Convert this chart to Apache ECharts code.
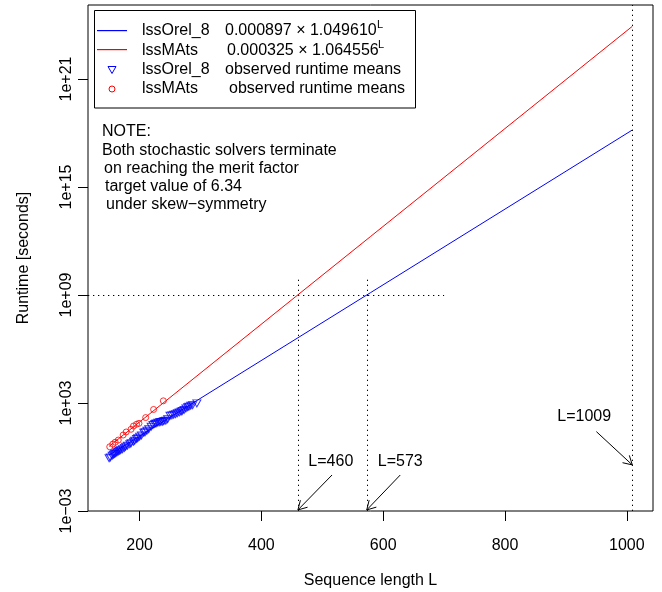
<!DOCTYPE html>
<html><head><meta charset="utf-8">
<script src="https://cdn.jsdelivr.net/npm/echarts@6/dist/echarts.min.js"></script>
<style>html,body{margin:0;padding:0;background:#fff}#c{width:662px;height:592px}</style>
</head><body><div id="c"></div>
<script>
// ---- data (runtime in seconds) ----
const blueL = [150, 152, 155, 157, 159, 161, 163, 165, 167, 169, 172, 175, 177, 180, 184, 186, 190, 192, 195, 197, 200, 203, 207, 209, 212, 215, 219, 222, 225, 227, 230, 233, 235, 238, 240, 243, 246, 250, 253, 256, 259, 262, 265, 268, 270, 273, 276, 279, 281, 284, 287, 294];
const blueRuntime = [0.85, 0.95, 1.17, 1.32, 1.48, 1.6, 1.82, 2.0, 2.24, 2.4, 2.69, 3.2, 3.7, 4.2, 5.1, 5.8, 7.1, 8.0, 10, 11.2, 13.5, 15.8, 22.4, 24, 28.8, 35, 48, 60, 68, 74, 80, 85, 89, 91, 100, 105, 125, 195, 205, 224, 240, 269, 300, 331, 360, 407, 500, 575, 630, 708, 760, 955];
const redL = [151, 156, 160, 165, 173, 178, 186, 190, 195, 199, 210, 223, 239];
const redRuntime = [3.7, 5.2, 6.6, 8.7, 16.6, 24.5, 34.7, 52.5, 66, 74, 155, 437, 1318];
const fitL = [150, 1009];
const blueFitRuntime = [1.28, 1.46e18];   // lssOrel_8  0.000897 x 1.049610^L
const redFitRuntime = [3.87, 8.4e23];     // lssMAts    0.000325 x 1.064556^L
const xTicks = [200, 400, 600, 800, 1000];
const yTickExps = [-3, 3, 9, 15, 21];
const yTickLabels = ['1e\u221203', '1e+03', '1e+09', '1e+15', '1e+21'];
const markL = [460, 573, 1009];
const targetRuntime = 1e9;
const annotText = ['L=460', 'L=573', 'L=1009'];

// annotation anchors in data space [L, log10(runtime)]
const annotTextPos = [[514, -0.26], [628, -0.26], [930, 2.22]];
const arrowTail = [[516, -1.0], [628, -1.0], [950, 1.41]];
const arrowTip = [[460, -2.94], [573, -2.94], [1009, -0.44]];

const FONT = '"Liberation Sans", Arial, Helvetica, sans-serif';
const lg = v => Math.log10(v);
const XMIN = 115.3, XMAX = 1043, YMIN = -3, YMAX = 25.11;

const chart = echarts.init(document.getElementById('c'), null, {renderer: 'canvas'});
const dotted = {color: '#000', width: 1, type: [1.3, 3.7]};

const option = {
  animation: false,
  backgroundColor: '#fff',
  textStyle: {fontFamily: FONT},
  grid: {left: 88, right: 9, top: 5, bottom: 81, show: true, borderColor: '#000', borderWidth: 1,
         containLabel: false, outerBoundsMode: 'none'},
  xAxis: {
    type: 'value', min: XMIN, max: XMAX,
    axisLine: {show: false, onZero: false},
    splitLine: {show: false},
    axisTick: {show: true, customValues: xTicks, length: 10, lineStyle: {color: '#000', width: 1}},
    axisLabel: {customValues: xTicks, margin: 27, fontSize: 16, color: '#000', fontFamily: FONT,
      formatter: v => String(Math.round(v))},
    name: 'Sequence length L', nameLocation: 'middle', nameGap: 62,
    nameTextStyle: {fontSize: 16, color: '#000', fontFamily: FONT}
  },
  yAxis: {
    type: 'value', min: YMIN, max: YMAX,
    axisLine: {show: false, onZero: false},
    splitLine: {show: false},
    axisTick: {show: true, customValues: yTickExps, length: 10, lineStyle: {color: '#000', width: 1}},
    axisLabel: {customValues: yTickExps, rotate: 90, margin: 13, fontSize: 16, color: '#000', fontFamily: FONT,
      formatter: v => yTickLabels[yTickExps.indexOf(Math.round(v))]},
    name: 'Runtime [seconds]', nameLocation: 'middle', nameGap: 56, nameRotate: 90,
    nameTextStyle: {fontSize: 16, color: '#000', fontFamily: FONT}
  },
  series: [
    {type: 'line', name: 'lssOrel_8 fit', data: fitL.map((l, i) => [l, lg(blueFitRuntime[i])]),
     showSymbol: false, symbol: 'none', lineStyle: {color: '#0000ff', width: 1}, z: 3,
     markLine: {silent: true, symbol: ['none', 'none'], label: {show: false}, lineStyle: dotted,
       data: [
         [{coord: [markL[0], YMIN]}, {coord: [markL[0], 10.0]}],
         [{coord: [markL[1], YMIN]}, {coord: [markL[1], 10.0]}],
         [{coord: [markL[2], YMIN]}, {coord: [markL[2], YMAX]}],
         [{coord: [XMIN, lg(targetRuntime)]}, {coord: [700, lg(targetRuntime)]}]
       ]}},
    {type: 'line', name: 'lssMAts fit', data: fitL.map((l, i) => [l, lg(redFitRuntime[i])]),
     showSymbol: false, symbol: 'none', lineStyle: {color: '#ff0000', width: 1}, z: 3},
    {type: 'scatter', name: 'lssOrel_8 obs', data: blueL.map((l, i) => [l, lg(blueRuntime[i])]),
     symbol: 'triangle', symbolRotate: 180, symbolSize: [8, 7],
     itemStyle: {color: 'rgba(0,0,0,0)', borderColor: '#0000ff', borderWidth: 1}, z: 4},
    {type: 'scatter', name: 'lssMAts obs', data: redL.map((l, i) => [l, lg(redRuntime[i])]),
     symbol: 'circle', symbolSize: 6,
     itemStyle: {color: 'rgba(0,0,0,0)', borderColor: '#ff0000', borderWidth: 1}, z: 4}
  ]
};
chart.setOption(option);

function txt(x, y, s, size, align, valign) {
  return {type: 'text', x: x, y: y, z: 100, silent: true,
    style: {text: s, fill: '#000', fontSize: size, fontFamily: FONT, font: size + 'px ' + FONT,
            align: align || 'left', textAlign: align || 'left',
            verticalAlign: valign || 'middle', textVerticalAlign: valign || 'middle'}};
}
const g = [];
// annotations with arrows
for (let i = 0; i < annotText.length; i++) {
  const p = chart.convertToPixel({gridIndex: 0}, annotTextPos[i]);
  g.push(txt(p[0], p[1], annotText[i], 16, 'center', 'middle'));
  const s = chart.convertToPixel({gridIndex: 0}, arrowTail[i]);
  const t = chart.convertToPixel({gridIndex: 0}, arrowTip[i]);
  g.push({type: 'line', z: 100, silent: true, shape: {x1: s[0], y1: s[1], x2: t[0], y2: t[1]}, style: {stroke: '#000', lineWidth: 1}});
  const dx = t[0] - s[0], dy = t[1] - s[1], len = Math.hypot(dx, dy);
  const ux = dx / len, uy = dy / len, h = 10, a = Math.PI / 6;
  const r = (ang) => [t[0] - h * (ux * Math.cos(ang) - uy * Math.sin(ang)), t[1] - h * (ux * Math.sin(ang) + uy * Math.cos(ang))];
  g.push({type: 'polyline', z: 100, silent: true, shape: {points: [r(a), t, r(-a)]}, style: {stroke: '#000', fill: null, lineWidth: 1}});
}
// legend box
g.push({type: 'rect', z: 90, silent: true, shape: {x: 94.5, y: 10.5, width: 321, height: 97.5}, style: {fill: '#fff', stroke: '#000', lineWidth: 1}});
g.push({type: 'rect', z: 100, silent: true, shape: {x: 97, y: 30, width: 30, height: 1.2}, style: {fill: '#0000ff'}});
g.push({type: 'rect', z: 100, silent: true, shape: {x: 97, y: 49, width: 30, height: 1.2}, style: {fill: '#ff0000'}});
g.push({type: 'polygon', z: 100, silent: true, shape: {points: [[108, 66.5], [116, 66.5], [112, 73.5]]}, style: {fill: null, stroke: '#0000ff', lineWidth: 1}});
g.push({type: 'circle', z: 100, silent: true, shape: {cx: 112, cy: 89, r: 3}, style: {fill: null, stroke: '#ff0000', lineWidth: 1}});
g.push(txt(142, 31, 'lssOrel_8', 16));
g.push(txt(142, 51, 'lssMAts', 16));
g.push(txt(142, 69.5, 'lssOrel_8', 16));
g.push(txt(142, 89, 'lssMAts', 16));
g.push(txt(225, 31, '0.000897 \u00d7 1.049610', 16));
g.push(txt(227, 51, '0.000325 \u00d7 1.064556', 16));
g.push(txt(377, 25, 'L', 11));
g.push(txt(378, 45, 'L', 11));
g.push(txt(225, 69.5, 'observed runtime means', 16));
g.push(txt(229, 89, 'observed runtime means', 16));
// note
const noteLines = ['NOTE:', 'Both stochastic solvers terminate', 'on reaching the merit factor', 'target value of 6.34', 'under skew\u2212symmetry'];
const noteX = [102, 102, 104, 105, 106];
noteLines.forEach((s, i) => g.push(txt(noteX[i], 132 + 18.1 * i, s, 16)));
chart.setOption({graphic: g});
</script>
</body></html>
